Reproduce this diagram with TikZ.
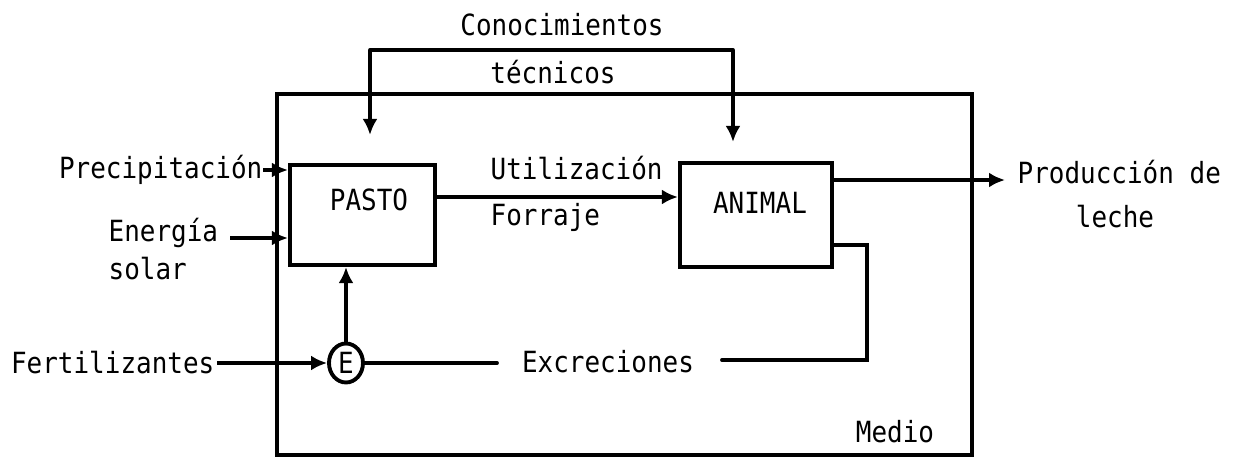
\documentclass[tikz,border=0pt]{standalone}
\usepackage{fontspec}
\setmonofont[FakeStretch=0.89]{DejaVu Sans Mono}
\usepackage{tikz}
\usetikzlibrary{
  arrows.meta,
  positioning,
  calc,
  shapes.geometric
}
\tikzset{
  lbl/.style={font=\ttfamily\fontsize{8.3pt}{11pt}\selectfont,inner sep=0pt},
  blockbox/.style={draw,line width=1.2pt,minimum width=1.45cm,minimum height=1.0cm,inner sep=0pt},
  flow/.style={-{Latex[length=1.6mm,width=1.5mm]},line width=1.1pt},
  plainline/.style={line width=1.1pt,line cap=round}
}
\begin{document}
\begin{tikzpicture}[x=1cm,y=-1cm]
  \useasboundingbox (0,0) rectangle (12.37,4.62);

  % outer frame
  \node[draw,line width=1.1pt,minimum width=6.95cm,minimum height=3.61cm,inner sep=0pt] (medio) at (6.245,2.745) {};
  \node[lbl] (mediolbl) at (8.95,4.32) {Medio};

  % blocks
  \node[blockbox] (pasto) at (3.625,2.15) {};
  \node[lbl] (pastolbl) at (3.69,2.00) {PASTO};
  \node[blockbox,minimum width=1.52cm,minimum height=1.04cm] (animal) at (7.56,2.15) {};
  \node[lbl] (animallbl) at (7.60,2.03) {ANIMAL};
  \node[draw,ellipse,line width=1.1pt,minimum width=0.34cm,minimum height=0.39cm,inner sep=0pt,lbl] (mix) at (3.46,3.63) {E};

  % inputs
  \node[lbl,anchor=east] (precip) at (2.63,1.70) {Precipitación};
  \node[lbl,anchor=north west,align=left] (solar) at (1.08,2.17) {Energía\\solar};
  \node[lbl,anchor=east] (fert) at (2.15,3.63) {Fertilizantes};
  \coordinate (solarsrc) at (2.30,2.38);

  \draw[flow] (precip.east) -- (pasto.west |- precip.east);
  \draw[flow] (solarsrc) -- (pasto.west |- solarsrc);
  \draw[flow] (fert.east) ++(0.02,0) -- (mix.west);
  \draw[flow] (mix.north) -- (mix |- pasto.south);

  % conocimientos
  \node[lbl] (conoc) at (5.62,0.25) {Conocimientos};
  \node[lbl] (tecn) at (5.53,0.72) {técnicos};
  \coordinate (kl) at (3.70,0.50);
  \coordinate (kr) at (7.33,0.50);
  \draw[flow,shorten >=0.28cm] (kl) -- (kl |- pasto.north);
  \draw[flow,shorten >=0.19cm] (kr) -- (kr |- animal.north);
  \draw[plainline] (kl) -- (kr);

  % forage
  \coordinate (fo) at (4.35,1.97);
  \draw[flow] (fo) -- (animal.west |- fo);
  \node[lbl,anchor=west] (util) at (4.90,1.68) {Utilización};
  \node[lbl,anchor=west] (forr) at (4.90,2.17) {Forraje};

  % output
  \coordinate (mo) at (8.32,1.80);
  \coordinate (me) at (10.05,1.80);
  \draw[flow] (mo) -- (me);
  \node[lbl,anchor=west] (prod) at (10.17,1.72) {Producción de};
  \node[lbl] (leche) at (11.15,2.17) {leche};

  % excretions
  \node[lbl] (excr) at (6.08,3.62) {Excreciones};
  \coordinate (ex1) at (4.97,3.63);
  \coordinate (ex2) at (7.22,3.60);
  \coordinate (ex3) at (8.67,3.60);
  \coordinate (ex4) at (8.67,2.45);
  \draw[plainline] (mix.east) -- (ex1);
  \draw[plainline] (ex2) -- (ex3) -- (ex4) -- (animal.east |- ex4);
\end{tikzpicture}
\end{document}
